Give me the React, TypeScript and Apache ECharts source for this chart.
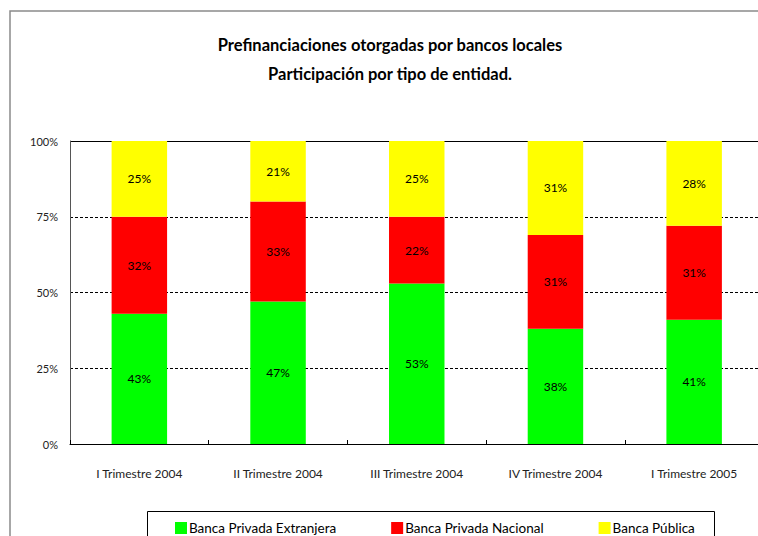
import React, { useEffect, useRef } from "react";
import * as echarts from "echarts";

const titleLines = [
  "Prefinanciaciones otorgadas por bancos locales",
  "Participación por tipo de entidad.",
];
const categories = [
  "I Trimestre 2004",
  "II Trimestre 2004",
  "III Trimestre 2004",
  "IV Trimestre 2004",
  "I Trimestre 2005",
];
const extranjera = [43, 47, 53, 38, 41];
const nacional = [32, 33, 22, 31, 31];
const publica = [25, 21, 25, 31, 28];
const seriesNames = ["Banca Privada Extranjera", "Banca Privada Nacional", "Banca Pública"];
const seriesColors = ["#00FF00", "#FF0000", "#FFFF00"];

const FONT = "Lato, 'DejaVu Sans', sans-serif";

export default function App() {
  const ref = useRef<HTMLDivElement>(null);
  useEffect(() => {
    if (!ref.current) return;
    const chart = echarts.init(ref.current, null, { renderer: "svg" });
    const data = [extranjera, nacional, publica];
    chart.setOption({
      animation: false,
      backgroundColor: "#fff",
      textStyle: { fontFamily: FONT },
      grid: {
        left: 70,
        width: 693.5,
        top: 141,
        height: 303,
        outerBoundsMode: "none",
        containLabel: false,
        show: false,
      },
      graphic: [
        {
          type: "polyline",
          shape: { points: [[10, 560], [10, 11], [758, 11]] },
          style: { stroke: "#8a8a8a", lineWidth: 1.5, fill: "none" },
          silent: true,
        },
        {
          type: "line",
          shape: { x1: 70, y1: 141.5, x2: 758, y2: 141.5 },
          style: { stroke: "#000", lineWidth: 1 },
          silent: true,
        },
        {
          type: "rect",
          shape: { x: 147.5, y: 511.5, width: 567, height: 60 },
          style: { fill: "none", stroke: "#000", lineWidth: 1 },
          silent: true,
        },
        {
          type: "rect",
          z: 100,
          shape: { x: 755, y: 12, width: 4, height: 128 },
          style: { fill: "#fff" },
          silent: true,
        },
        ...titleLines.map((t, i) => ({
          type: "text",
          x: 390,
          y: 45 + i * 29,
          style: {
            text: t,
            fill: "#000",
            font: `bold 16.5px ${FONT}`,
            textAlign: "center",
            textVerticalAlign: "middle",
          },
          silent: true,
        })),
      ],
      legend: {
        left: 170,
        top: 516,
        padding: 5,
        itemWidth: 12,
        itemHeight: 12,
        itemGap: 55,
        icon: "rect",
        textStyle: { fontFamily: FONT, fontSize: 13.5, color: "#000", padding: [0, 0, 0, -3] },
        data: seriesNames,
      },
      xAxis: {
        type: "category",
        data: categories,
        axisLine: { show: true, lineStyle: { color: "#000", width: 1 } },
        axisTick: { show: true, inside: true, length: 4, lineStyle: { color: "#000" } },
        axisLabel: { margin: 23, fontSize: 12, color: "#222", fontFamily: FONT },
        splitLine: { show: false },
      },
      yAxis: {
        type: "value",
        min: 0,
        max: 100,
        interval: 25,
        axisLine: { show: true, lineStyle: { color: "#555", width: 1 } },
        axisTick: { show: false },
        axisLabel: { formatter: "{value}%", margin: 12, fontSize: 11, color: "#222", fontFamily: FONT },
        splitLine: { show: true, lineStyle: { color: "#000", type: [3, 2], width: 1 } },
      },
      series: seriesNames.map((name, i) => ({
        name,
        type: "bar",
        stack: "total",
        barWidth: "40%",
        data: data[i],
        itemStyle: { color: seriesColors[i] },
        label: {
          show: true,
          position: "inside",
          formatter: "{c}%",
          fontSize: 12,
          color: "#000",
          fontFamily: FONT,
        },
      })),
    });
    return () => chart.dispose();
  }, []);
  return (
    <div
      ref={ref}
      style={{ position: "absolute", left: 0, top: 0, width: 758, height: 536 }}
    />
  );
}
